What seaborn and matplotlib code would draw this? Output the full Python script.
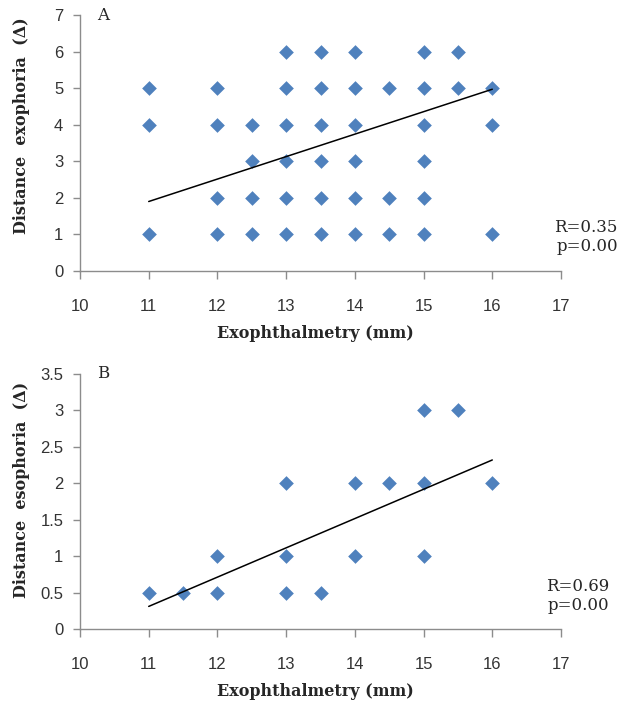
import numpy as np
import pandas as pd
from matplotlib import pyplot as plt
import seaborn as sns

# panel A: exophthalmetry vs distance exophoria
a_x = [11, 11, 11,
       12, 12, 12, 12,
       12.5, 12.5, 12.5, 12.5,
       13, 13, 13, 13, 13, 13,
       13.5, 13.5, 13.5, 13.5, 13.5, 13.5,
       14, 14, 14, 14, 14, 14,
       14.5, 14.5, 14.5,
       15, 15, 15, 15, 15, 15,
       15.5, 15.5,
       16, 16, 16]
a_y = [1, 4, 5,
       1, 2, 4, 5,
       1, 2, 3, 4,
       1, 2, 3, 4, 5, 6,
       1, 2, 3, 4, 5, 6,
       1, 2, 3, 4, 5, 6,
       1, 2, 5,
       1, 2, 3, 4, 5, 6,
       5, 6,
       1, 4, 5]
a_fit_x = [11, 16]
a_fit_y = [1.9, 4.97]

# panel B: exophthalmetry vs distance esophoria
b_x = [11, 11.5, 12, 12, 13, 13, 13, 13.5, 14, 14, 14.5, 15, 15, 15, 15.5, 16]
b_y = [0.5, 0.5, 0.5, 1, 0.5, 1, 2, 0.5, 1, 2, 2, 1, 2, 3, 3, 2]
b_fit_x = [11, 16]
b_fit_y = [0.31, 2.32]

x_ticks = [10, 11, 12, 13, 14, 15, 16, 17]
a_yticks = [0, 1, 2, 3, 4, 5, 6, 7]
b_yticks = [0, 0.5, 1, 1.5, 2, 2.5, 3, 3.5]
b_ytick_labels = ['0', '0.5', '1', '1.5', '2', '2.5', '3', '3.5']

sns.set_style('white')
plt.rcParams['font.family'] = ['Liberation Sans', 'DejaVu Sans']

blue = '#4F81BD'
grey = '#8C8C8C'
serif = ['DejaVu Serif']

fig = plt.figure(figsize=(6.34, 7.04), dpi=100)
W, H = 634, 704


def make_ax(top, bottom):
    left, right = 80, 561
    return fig.add_axes([left / W, 1 - bottom / H, (right - left) / W, (bottom - top) / H])


def draw(ax, xs, ys, fx, fy, yticks, ylabels, ylab, letter, rtext, ylab_y, rpos):
    df = pd.DataFrame({'x': xs, 'y': ys})
    sns.scatterplot(data=df, x='x', y='y', marker='D', s=56, color=blue,
                    linewidth=0, ax=ax, zorder=3)
    fit = pd.DataFrame({'x': fx, 'y': fy})
    sns.lineplot(data=fit, x='x', y='y', color='black', linewidth=1.1, ax=ax, zorder=4)
    ax.set_xlim(10, 17)
    ax.set_ylim(yticks[0], yticks[-1])
    ax.set_xticks(x_ticks)
    ax.set_yticks(yticks)
    ax.set_yticklabels(ylabels)
    for s in ['top', 'right']:
        ax.spines[s].set_visible(False)
    for s in ['left', 'bottom']:
        ax.spines[s].set_color(grey)
        ax.spines[s].set_linewidth(1.0)
    ax.tick_params(axis='x', direction='out', length=6, width=1, color=grey,
                   pad=14, labelsize=12, labelcolor='#333333', bottom=True)
    ax.tick_params(axis='y', direction='out', length=5, width=1, color=grey,
                   pad=7, labelsize=12, labelcolor='#333333', left=True)
    ax.set_xlabel('Exophthalmetry (mm)', family=serif, fontweight='bold', fontsize=11.5)
    ax.xaxis.set_label_coords(0.49, -54 / 256)
    ax.set_ylabel(ylab, family=serif, fontweight='bold', fontsize=11.5)
    ax.yaxis.set_label_coords(-50 / 481, ylab_y)
    ax.text(0.035, 1.0, letter, transform=ax.transAxes, family=serif,
            fontsize=12, va='center', ha='left')
    ax.text(rpos[0], rpos[1], rtext, transform=ax.transAxes, family=serif,
            fontsize=12, va='center', ha='right', linespacing=1.2)


ax1 = make_ax(15, 271)
draw(ax1, a_x, a_y, a_fit_x, a_fit_y, a_yticks, [str(v) for v in a_yticks],
     'Distance  exophoria  (Δ)', 'A', 'R=0.35\np=0.00', 0.566, (1.118, 0.133))

ax2 = make_ax(374, 629)
draw(ax2, b_x, b_y, b_fit_x, b_fit_y, b_yticks, b_ytick_labels,
     'Distance  esophoria  (Δ)', 'B', 'R=0.69\np=0.00', 0.545, (1.10, 0.129))

fig.savefig('out.png', dpi=100)
